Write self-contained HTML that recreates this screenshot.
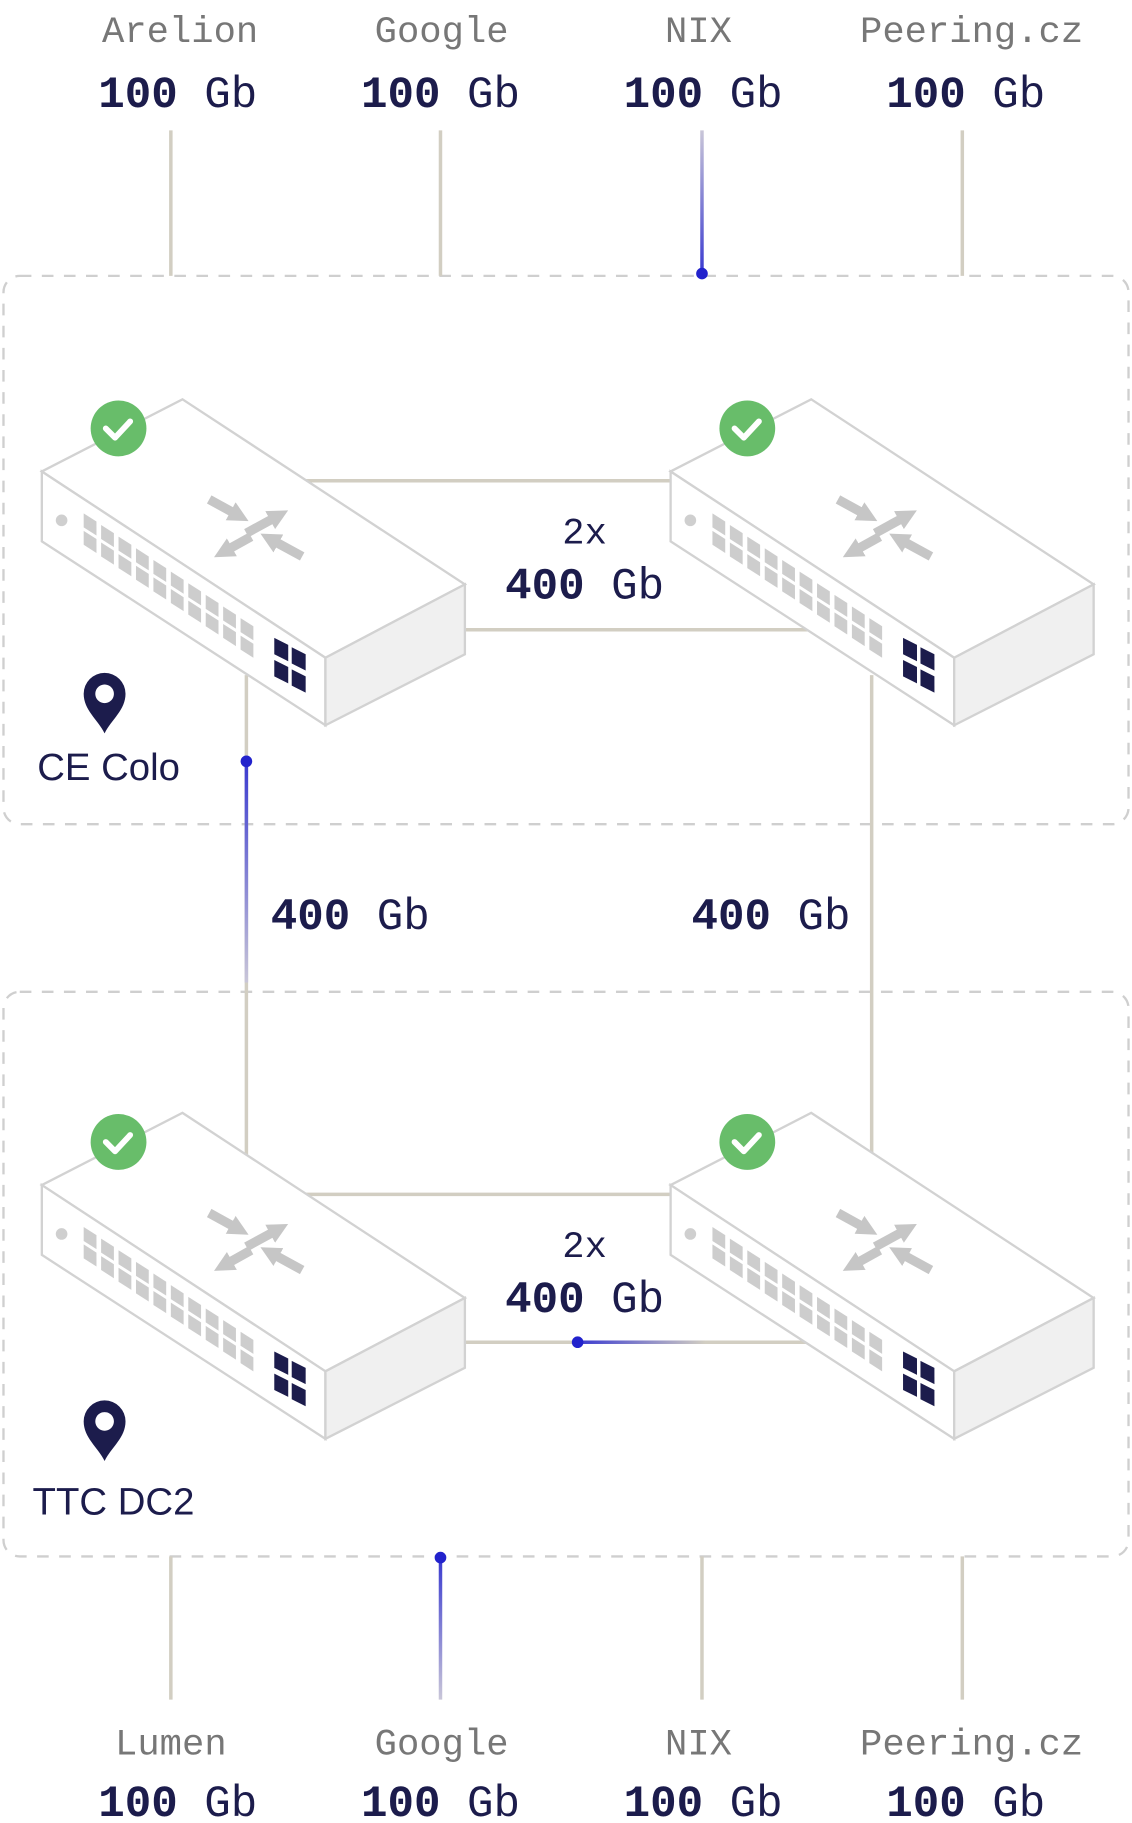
<!DOCTYPE html>
<html><head><meta charset="utf-8"><style>
html,body{margin:0;padding:0;background:#fff;}
svg{display:block;}
text{font-family:"Liberation Mono",monospace;}
.nm{font-size:32px;fill:#777;}
.sp{font-size:38px;fill:#1c1c4c;}
.sp tspan.b{font-weight:bold;}
</style></head><body>
<svg width="1132" height="1823" viewBox="0 0 974 1566" preserveAspectRatio="none" xmlns="http://www.w3.org/2000/svg">
<defs>
<marker id="ah" viewBox="0 0 10 10" refX="1" refY="5" markerWidth="2.2" markerHeight="2.4" orient="auto"><path d="M0,0 L10,5 L0,10 z" fill="#c6c6c6"/></marker>
<linearGradient id="gv" x1="0" y1="0" x2="0" y2="1"><stop offset="0" stop-color="#c9c6d8"/><stop offset="1" stop-color="#3a3ad0"/></linearGradient>
<linearGradient id="gv2" x1="0" y1="0" x2="0" y2="1"><stop offset="0" stop-color="#3a3ad0"/><stop offset="1" stop-color="#c9c6d8"/></linearGradient>
<linearGradient id="gh" x1="0" y1="0" x2="1" y2="0"><stop offset="0" stop-color="#3a3ad0"/><stop offset="1" stop-color="#d2cec2"/></linearGradient>
<g id="sw">
  <polygon points="36,405 157,343 400,502 280,565" fill="#fff" stroke="#d2d2d2" stroke-width="2"/>
  <polygon points="36,405 280,565 280,623 36,465" fill="#fff" stroke="#d2d2d2" stroke-width="2"/>
  <polygon points="280,565 400,502 400,562 280,623" fill="#f0f0f0" stroke="#d2d2d2" stroke-width="2"/>
  <circle cx="53" cy="447" r="5" fill="#cfcfcf"/>
  <g fill="#cdcdcd">
    <path id="p" d="M72,441 l11,7 l0,12 l-11,-7 z"/>
    <use href="#p" transform="translate(15,10)"/><use href="#p" transform="translate(30,20)"/><use href="#p" transform="translate(45,30)"/><use href="#p" transform="translate(60,40)"/><use href="#p" transform="translate(75,50)"/><use href="#p" transform="translate(90,60)"/><use href="#p" transform="translate(105,70)"/><use href="#p" transform="translate(120,80)"/><use href="#p" transform="translate(135,90)"/>
    <use href="#p" transform="translate(0,15)"/><use href="#p" transform="translate(15,25)"/><use href="#p" transform="translate(30,35)"/><use href="#p" transform="translate(45,45)"/><use href="#p" transform="translate(60,55)"/><use href="#p" transform="translate(75,65)"/><use href="#p" transform="translate(90,75)"/><use href="#p" transform="translate(105,85)"/><use href="#p" transform="translate(120,95)"/><use href="#p" transform="translate(135,105)"/>
  </g>
  <g fill="#1c1c4c">
    <path d="M236,548 l12,6 l0,14 l-12,-6 z"/><path d="M251,556 l12,6 l0,14 l-12,-6 z"/>
    <path d="M236,567 l12,6 l0,14 l-12,-6 z"/><path d="M251,575 l12,6 l0,14 l-12,-6 z"/>
  </g>
  <g stroke="#c6c6c6" stroke-width="8" fill="none" marker-end="url(#ah)">
    <line x1="180" y1="429" x2="200" y2="440"/>
    <line x1="212" y1="458" x2="234" y2="446"/>
    <line x1="216" y1="461" x2="198" y2="471"/>
    <line x1="260" y1="478" x2="238" y2="466"/>
  </g>
  <circle cx="102" cy="368" r="24" fill="#68bd6a"/>
  <path d="M91,368 l8,8 l13,-14" stroke="#fff" stroke-width="5" fill="none" stroke-linecap="round" stroke-linejoin="round"/>
</g>
<path id="pin" d="M90,630 C84,618 72,610 72,596 A18,18 0 0 1 108,596 C108,610 96,618 90,630 z M90,588 a8,8 0 1 0 0.01,0 z" fill="#1c1c4c" fill-rule="evenodd"/>
</defs>

<rect x="3" y="237" width="968" height="471" rx="14" fill="none" stroke="#cfcfcf" stroke-width="2" stroke-dasharray="10,9"/>
<rect x="3" y="852" width="968" height="485" rx="14" fill="none" stroke="#cfcfcf" stroke-width="2" stroke-dasharray="10,9"/>

<g text-anchor="middle">
<text class="nm" x="155" y="36">Arelion</text>
<text class="nm" x="380" y="36">Google</text>
<text class="nm" x="601" y="36">NIX</text>
<text class="nm" x="836" y="36">Peering.cz</text>
<text class="sp" x="153" y="92"><tspan class="b">100</tspan> Gb</text>
<text class="sp" x="379" y="92"><tspan class="b">100</tspan> Gb</text>
<text class="sp" x="605" y="92"><tspan class="b">100</tspan> Gb</text>
<text class="sp" x="831" y="92"><tspan class="b">100</tspan> Gb</text>
<text class="nm" x="147" y="1507">Lumen</text>
<text class="nm" x="380" y="1507">Google</text>
<text class="nm" x="601" y="1507">NIX</text>
<text class="nm" x="836" y="1507">Peering.cz</text>
<text class="sp" x="153" y="1560"><tspan class="b">100</tspan> Gb</text>
<text class="sp" x="379" y="1560"><tspan class="b">100</tspan> Gb</text>
<text class="sp" x="605" y="1560"><tspan class="b">100</tspan> Gb</text>
<text class="sp" x="831" y="1560"><tspan class="b">100</tspan> Gb</text>
</g>

<g stroke="#d2cec2" stroke-width="3" fill="none">
<line x1="147" y1="112" x2="147" y2="237"/>
<line x1="379" y1="112" x2="379" y2="237"/>
<line x1="828" y1="112" x2="828" y2="237"/>
<line x1="147" y1="1337" x2="147" y2="1460"/>
<line x1="604" y1="1337" x2="604" y2="1460"/>
<line x1="828" y1="1337" x2="828" y2="1460"/>
<line x1="260" y1="413" x2="590" y2="413"/>
<line x1="395" y1="541" x2="700" y2="541"/>
<line x1="260" y1="1026" x2="590" y2="1026"/>
<line x1="395" y1="1153" x2="700" y2="1153"/>
<line x1="212" y1="580" x2="212" y2="1000"/>
<line x1="750" y1="580" x2="750" y2="990"/>
</g>
<rect x="602.5" y="112" width="3" height="123" fill="url(#gv)"/>
<circle cx="604" cy="235" r="5" fill="#2222cc"/>
<rect x="210.5" y="654" width="3" height="190" fill="url(#gv2)"/>
<circle cx="212" cy="654" r="5" fill="#2222cc"/>
<rect x="377.5" y="1339" width="3" height="121" fill="url(#gv2)"/>
<circle cx="379" cy="1338" r="5" fill="#2222cc"/>
<rect x="497" y="1151.5" width="110" height="3" fill="url(#gh)"/>
<circle cx="497" cy="1153" r="5" fill="#2222cc"/>

<use href="#sw"/>
<use href="#sw" transform="translate(541,0)"/>
<use href="#sw" transform="translate(0,613)"/>
<use href="#sw" transform="translate(541,613)"/>

<g text-anchor="middle">
<text class="sp" x="503" y="467" style="font-size:32px">2x</text>
<text class="sp" x="503" y="514"><tspan class="b">400</tspan> Gb</text>
<text class="sp" x="503" y="1080" style="font-size:32px">2x</text>
<text class="sp" x="503" y="1127"><tspan class="b">400</tspan> Gb</text>
</g>
<text class="sp" x="233" y="798"><tspan class="b">400</tspan> Gb</text>
<text class="sp" x="595" y="798"><tspan class="b">400</tspan> Gb</text>

<use href="#pin"/>
<use href="#pin" transform="translate(0,625)"/>
<text x="32" y="670" style="font-family:'Liberation Sans',sans-serif;font-size:33px;fill:#1c1c4c">CE Colo</text>
<text x="28" y="1301" style="font-family:'Liberation Sans',sans-serif;font-size:33px;fill:#1c1c4c">TTC DC2</text>
</svg>
</body></html>
